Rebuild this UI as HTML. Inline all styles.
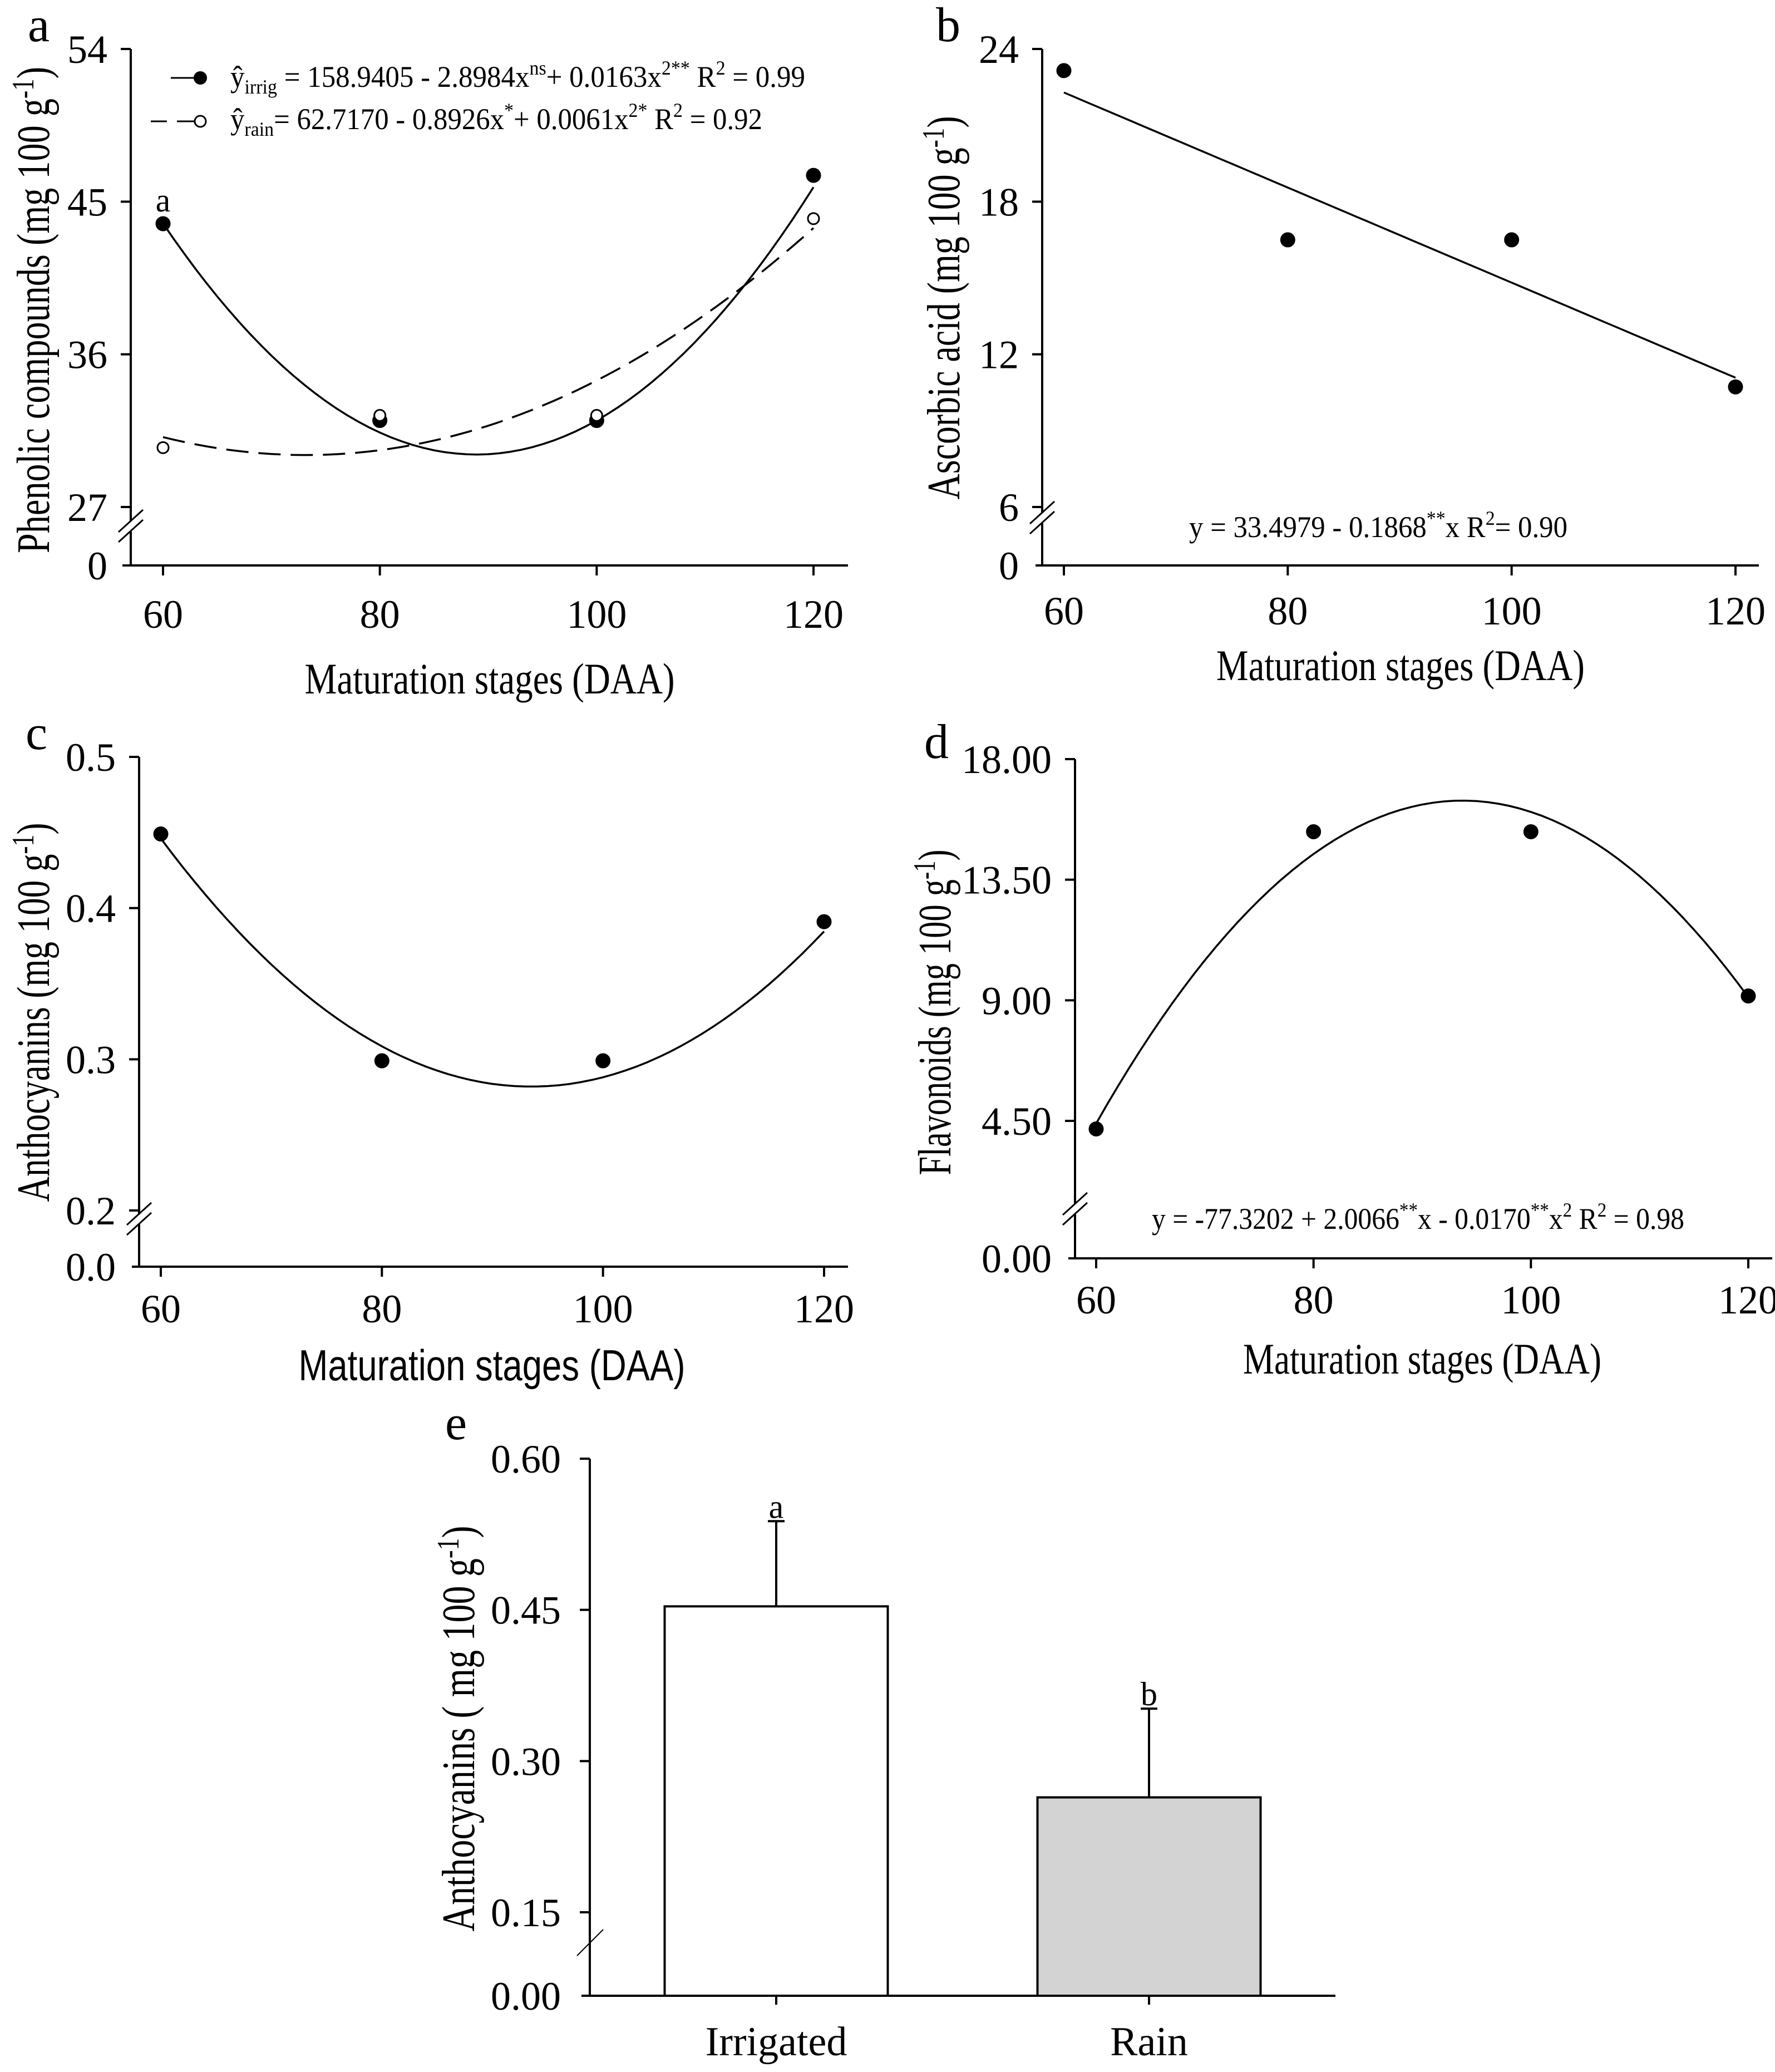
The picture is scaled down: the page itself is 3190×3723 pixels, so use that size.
<!DOCTYPE html>
<html><head><meta charset="utf-8"><style>
html,body{margin:0;padding:0;background:#fff}
svg{display:block}
text{font-family:"Liberation Serif",serif;fill:#000}
</style></head><body>
<svg id="fig" xmlns="http://www.w3.org/2000/svg" width="3190" height="3723" viewBox="0 0 3190 3723"></svg>
<script>
// ---------- data ----------
const stages = [60, 80, 100, 120];
// panel a
const phenolicIrrig = [43.7, 32.1, 32.1, 46.55];
const phenolicRain = [30.5, 32.4, 32.4, 44.0];
const phenolicIrrigCoef = [158.9405, -2.8984, 0.0163];
const phenolicRainCoef = [62.7170, -0.8926, 0.0061];
const phenolicTicks = [54, 45, 36, 27];
// panel b
const ascorbic = [23.15, 16.5, 16.5, 10.72];
const ascorbicCoef = [33.4979, -0.1868, 0];
const ascorbicTicks = [24, 18, 12, 6];
// panel c
const anthoc = [0.449, 0.299, 0.299, 0.391];
const anthocCoef = [1.5601, -0.02734, 0.0001462];
const anthocTicks = [0.5, 0.4, 0.3, 0.2];
const anthocTickLabels = ["0.5", "0.4", "0.3", "0.2"];
// panel d
const flavon = [4.2, 15.29, 15.29, 9.16];
const flavonCoef = [-76.70, 1.9883, -0.01061];
const flavonTicks = [18, 13.5, 9, 4.5];
const flavonTickLabels = ["18.00", "13.50", "9.00", "4.50"];
// panel e
const barCats = ["Irrigated", "Rain"];
const barValues = [0.4535, 0.264];
const barErrTop = [0.538, 0.352];
const barLetters = ["a", "b"];
const barTicks = [0.60, 0.45, 0.30, 0.15];
const barTickLabels = ["0.60", "0.45", "0.30", "0.15"];

// ---------- helpers ----------
const NS = "http://www.w3.org/2000/svg";
const svg = document.getElementById("fig");
function mk(tag, attrs, parent) {
  const e = document.createElementNS(NS, tag);
  for (const k in attrs) e.setAttribute(k, attrs[k]);
  (parent || svg).appendChild(e);
  return e;
}
function txt(str, attrs, parent) {
  const t = mk("text", attrs, parent);
  t.textContent = str;
  return t;
}
function poly(c, x) { return c[0] + c[1] * x + c[2] * x * x; }

function makePanel(p) {
  const g = mk("g", {});
  
  
  const xs = v => p.px60 + (v - 60) * (p.px120 - p.px60) / 60;
  const top = p.ticks[0], low = p.ticks[p.ticks.length - 1];
  const ys = v => p.lowPx - (v - low) * (p.lowPx - p.topPx) / (top - low);
  // axes
  const ya = mk("line", {x1: p.yAxisX, y1: p.topPx, x2: p.yAxisX, y2: p.zeroPx, stroke: "#000", "stroke-width": 4}, g);
  
  
  const xa = mk("line", {x1: p.xL, y1: p.zeroPx, x2: p.xR, y2: p.zeroPx, stroke: "#000", "stroke-width": 4}, g);
  
  
  // break marks
  const bm = p.breakY;
  mk("rect", {x: p.yAxisX - 4, y: bm - 8, width: 8, height: 18, fill: "#fff"}, g);
  for (const off of [-9, 9]) {
    const b = mk("line", {x1: p.yAxisX - 22, y1: bm + off + 20, x2: p.yAxisX + 22, y2: bm + off - 20, stroke: "#000", "stroke-width": 3}, g);
    
    
  }
  // y ticks
  const labs = p.tickLabels || p.ticks.map(String);
  p.ticks.forEach((v, i) => {
    const y = ys(v);
    mk("line", {x1: p.yAxisX - 18, y1: y, x2: p.yAxisX, y2: y, stroke: "#000", "stroke-width": 4}, g);
    const t = txt(labs[i], {x: p.yAxisX - 42, y: y + 25, "font-size": 72, "text-anchor": "end"}, g);
    
    
  });
  const z = txt(p.zeroLabel, {x: p.yAxisX - 42, y: p.zeroPx + 25, "font-size": 72, "text-anchor": "end"}, g);
  
  
  // x ticks
  stages.forEach(v => {
    const x = xs(v);
    mk("line", {x1: x, y1: p.zeroPx, x2: x, y2: p.zeroPx + 18, stroke: "#000", "stroke-width": 4}, g);
    const t = txt(String(v), {x: x, y: p.xLabY, "font-size": 72, "text-anchor": "middle"}, g);
    
    
  });
  // titles
  const xt = txt("Maturation stages (DAA)", {x: p.xTitleX, y: p.xTitleY, "font-size": 78, "text-anchor": "middle", textLength: p.xTitleLen, lengthAdjust: "spacingAndGlyphs"}, g);
  if (p.sansX) xt.setAttribute("style", 'font-family:"Liberation Sans",sans-serif');
  
  
  const yt = mk("text", {x: 0, y: 0, "font-size": 84, "text-anchor": "middle", textLength: p.yTitleLen, lengthAdjust: "spacingAndGlyphs", transform: `translate(${p.yTitleX},${p.yTitleY}) rotate(-90)`}, g);
  
  
  yt.appendChild(document.createTextNode(p.yTitle + " (mg 100 g"));
  const s = mk("tspan", {dy: -28, "font-size": 56}, yt); s.textContent = "-1";
  const s2 = mk("tspan", {dy: 28}, yt); s2.textContent = ")";
  const pl = txt(p.letter, {x: p.letterX, y: p.letterY, "font-size": 88}, g);
  
  
  return {g, xs, ys};
}
function curve(g, xs, ys, coef, attrs, name) {
  let d = "";
  for (let x = 60; x <= 120.001; x += 1) d += (d ? "L" : "M") + xs(x).toFixed(1) + "," + ys(poly(coef, x)).toFixed(1);
  const c = mk("path", Object.assign({d: d, fill: "none", stroke: "#000", "stroke-width": 3.5}, attrs), g);
  
  
}
function points(g, xs, ys, vals, filled, name) {
  vals.forEach((v, i) => {
    const c = mk("circle", {cx: xs(stages[i]), cy: ys(v), r: filled ? 12 : 10, fill: filled ? "#000" : "#fff", stroke: "#000", "stroke-width": 3}, g);
    
    
  });
}

// ---------- panel a ----------
{
  const P = makePanel({name: "panel-a-phenolic", px60: 293, px120: 1462, xL: 220, xR: 1524, yAxisX: 235,
    ticks: phenolicTicks, topPx: 88, lowPx: 911, zeroPx: 1016, zeroLabel: "0", breakY: 945,
    xLabY: 1128, xTitleX: 880, xTitleY: 1246, xTitleLen: 665,
    yTitle: "Phenolic compounds", yTitleX: 88, yTitleY: 557, yTitleLen: 874,
    letter: "a", letterX: 50, letterY: 74});
  curve(P.g, P.xs, P.ys, phenolicIrrigCoef, {}, "irrigated-fit-curve");
  curve(P.g, P.xs, P.ys, phenolicRainCoef, {"stroke-dasharray": "40 18"}, "rain-fit-curve");
  points(P.g, P.xs, P.ys, phenolicIrrig, true, "irrigated-point");
  points(P.g, P.xs, P.ys, phenolicRain, false, "rain-point");
  const an = txt("a", {x: P.xs(60), y: P.ys(phenolicIrrig[0]) - 22, "font-size": 60, "text-anchor": "middle"}, P.g);
  
  
  // legend
  const lg = mk("g", {}, P.g);
  
  
  mk("line", {x1: 307, y1: 140, x2: 353, y2: 140, stroke: "#000", "stroke-width": 3}, lg);
  mk("circle", {cx: 360, cy: 140, r: 12, fill: "#000"}, lg);
  mk("line", {x1: 271, y1: 218, x2: 300, y2: 218, stroke: "#000", "stroke-width": 3}, lg);
  mk("line", {x1: 318, y1: 218, x2: 350, y2: 218, stroke: "#000", "stroke-width": 3}, lg);
  mk("circle", {cx: 360, cy: 218, r: 10, fill: "#fff", stroke: "#000", "stroke-width": 3}, lg);
  const l1 = mk("text", {x: 414, y: 156, "font-size": 54, textLength: 1033, lengthAdjust: "spacingAndGlyphs"}, lg);
  
  
  l1.innerHTML = 'ŷ<tspan dy="12" font-size="36">irrig</tspan><tspan dy="-12"> = 158.9405 - 2.8984x</tspan><tspan dy="-22" font-size="36">ns</tspan><tspan dy="22">+ 0.0163x</tspan><tspan dy="-22" font-size="36">2**</tspan><tspan dy="22">  R</tspan><tspan dy="-22" font-size="36">2</tspan><tspan dy="22"> = 0.99</tspan>';
  const l2 = mk("text", {x: 414, y: 232, "font-size": 54, textLength: 956, lengthAdjust: "spacingAndGlyphs"}, lg);
  
  
  l2.innerHTML = 'ŷ<tspan dy="12" font-size="36">rain</tspan><tspan dy="-12">= 62.7170 - 0.8926x</tspan><tspan dy="-22" font-size="36">*</tspan><tspan dy="22">+ 0.0061x</tspan><tspan dy="-22" font-size="36">2*</tspan><tspan dy="22">  R</tspan><tspan dy="-22" font-size="36">2</tspan><tspan dy="22"> = 0.92</tspan>';
}
// ---------- panel b ----------
{
  const P = makePanel({name: "panel-b-ascorbic", px60: 1912, px120: 3119, xL: 1861, xR: 3161, yAxisX: 1873,
    ticks: ascorbicTicks, topPx: 88, lowPx: 911, zeroPx: 1016, zeroLabel: "0", breakY: 930,
    xLabY: 1122, xTitleX: 2517, xTitleY: 1222, xTitleLen: 662,
    yTitle: "Ascorbic acid", yTitleX: 1724, yTitleY: 553, yTitleLen: 689,
    letter: "b", letterX: 1682, letterY: 74});
  curve(P.g, P.xs, P.ys, ascorbicCoef, {}, "linear-fit-line");
  points(P.g, P.xs, P.ys, ascorbic, true, "data-point");
  const e = mk("text", {x: 2137, y: 965, "font-size": 54, textLength: 680, lengthAdjust: "spacingAndGlyphs"}, P.g);
  
  
  e.innerHTML = 'y = 33.4979 - 0.1868<tspan dy="-22" font-size="36">**</tspan><tspan dy="22">x R</tspan><tspan dy="-22" font-size="36">2</tspan><tspan dy="22">= 0.90</tspan>';
}
// ---------- panel c ----------
{
  const P = makePanel({name: "panel-c-anthocyanins", px60: 289, px120: 1481, xL: 237, xR: 1524, yAxisX: 250,
    ticks: anthocTicks, tickLabels: anthocTickLabels, topPx: 1360, lowPx: 2175, zeroPx: 2276, zeroLabel: "0.0", breakY: 2190,
    xLabY: 2376, xTitleX: 884, xTitleY: 2480, xTitleLen: 695, sansX: true,
    yTitle: "Anthocyanins", yTitleX: 88, yTitleY: 1819, yTitleLen: 681,
    letter: "c", letterX: 46, letterY: 1346});
  curve(P.g, P.xs, P.ys, anthocCoef, {}, "fit-curve");
  points(P.g, P.xs, P.ys, anthoc, true, "data-point");
}
// ---------- panel d ----------
{
  const P = makePanel({name: "panel-d-flavonoids", px60: 1970, px120: 3142, xL: 1920, xR: 3185, yAxisX: 1932,
    ticks: flavonTicks, tickLabels: flavonTickLabels, topPx: 1364, lowPx: 2014, zeroPx: 2261, zeroLabel: "0.00", breakY: 2172,
    xLabY: 2360, xTitleX: 2556, xTitleY: 2468, xTitleLen: 644,
    yTitle: "Flavonoids", yTitleX: 1708, yTitleY: 1819, yTitleLen: 585,
    letter: "d", letterX: 1661, letterY: 1362});
  curve(P.g, P.xs, P.ys, flavonCoef, {}, "fit-curve");
  points(P.g, P.xs, P.ys, flavon, true, "data-point");
  const e = mk("text", {x: 2070, y: 2208, "font-size": 54, textLength: 957, lengthAdjust: "spacingAndGlyphs"}, P.g);
  
  
  e.innerHTML = 'y = -77.3202 + 2.0066<tspan dy="-22" font-size="36">**</tspan><tspan dy="22">x - 0.0170</tspan><tspan dy="-22" font-size="36">**</tspan><tspan dy="22">x</tspan><tspan dy="-22" font-size="36">2</tspan><tspan dy="22">  R</tspan><tspan dy="-22" font-size="36">2</tspan><tspan dy="22"> = 0.98</tspan>';
}
// ---------- panel e ----------
{
  const g = mk("g", {});
  
  
  const axX = 1060, topPx = 2621, lowPx = 3436, zeroPx = 3586;
  const top = barTicks[0], low = barTicks[barTicks.length - 1];
  const ys = v => v >= low ? lowPx - (v - low) * (lowPx - topPx) / (top - low) : zeroPx - v * (zeroPx - lowPx) / low;
  const centers = [1395, 2065];
  const bw = 401;
  const fills = ["#ffffff", "#d3d3d3"];
  barCats.forEach((c, i) => {
    const x = centers[i];
    const eb = mk("line", {x1: x, y1: ys(barErrTop[i]), x2: x, y2: ys(barValues[i]), stroke: "#000", "stroke-width": 4}, g);
    
    
    mk("line", {x1: x - 15, y1: ys(barErrTop[i]), x2: x + 15, y2: ys(barErrTop[i]), stroke: "#000", "stroke-width": 4}, g);
    const r = mk("rect", {x: x - bw / 2, y: ys(barValues[i]), width: bw, height: zeroPx - ys(barValues[i]), fill: fills[i], stroke: "#000", "stroke-width": 4}, g);
    
    
    const l = txt(barLetters[i], {x: x, y: ys(barErrTop[i]) - 6, "font-size": 60, "text-anchor": "middle"}, g);
    
    
    mk("line", {x1: x, y1: zeroPx, x2: x, y2: zeroPx + 16, stroke: "#000", "stroke-width": 4}, g);
    const cl = txt(c, {x: x, y: 3693, "font-size": 74, "text-anchor": "middle"}, g);
    
    
  });
  const ya = mk("line", {x1: axX, y1: topPx, x2: axX, y2: zeroPx, stroke: "#000", "stroke-width": 4}, g);
  
  
  const xa = mk("line", {x1: 1045, y1: zeroPx, x2: 2400, y2: zeroPx, stroke: "#000", "stroke-width": 4}, g);
  
  
  const br = mk("line", {x1: 1037, y1: 3514, x2: 1084, y2: 3467, stroke: "#000", "stroke-width": 2}, g);
  
  
  barTicks.forEach((v, i) => {
    const y = ys(v);
    mk("line", {x1: axX - 18, y1: y, x2: axX, y2: y, stroke: "#000", "stroke-width": 4}, g);
    const t = txt(barTickLabels[i], {x: axX - 52, y: y + 25, "font-size": 72, "text-anchor": "end"}, g);
    
    
  });
  const z = txt("0.00", {x: axX - 52, y: zeroPx + 25, "font-size": 72, "text-anchor": "end"}, g);
  
  
  const yt = mk("text", {x: 0, y: 0, "font-size": 84, "text-anchor": "middle", textLength: 729, lengthAdjust: "spacingAndGlyphs", transform: "translate(852,3106) rotate(-90)"}, g);
  
  
  yt.innerHTML = 'Anthocyanins ( mg 100 g<tspan dy="-28" font-size="56">-1</tspan><tspan dy="28">)</tspan>';
  const pl = txt("e", {x: 800, y: 2586, "font-size": 88}, g);
  
  
}
</script>
</body></html>
